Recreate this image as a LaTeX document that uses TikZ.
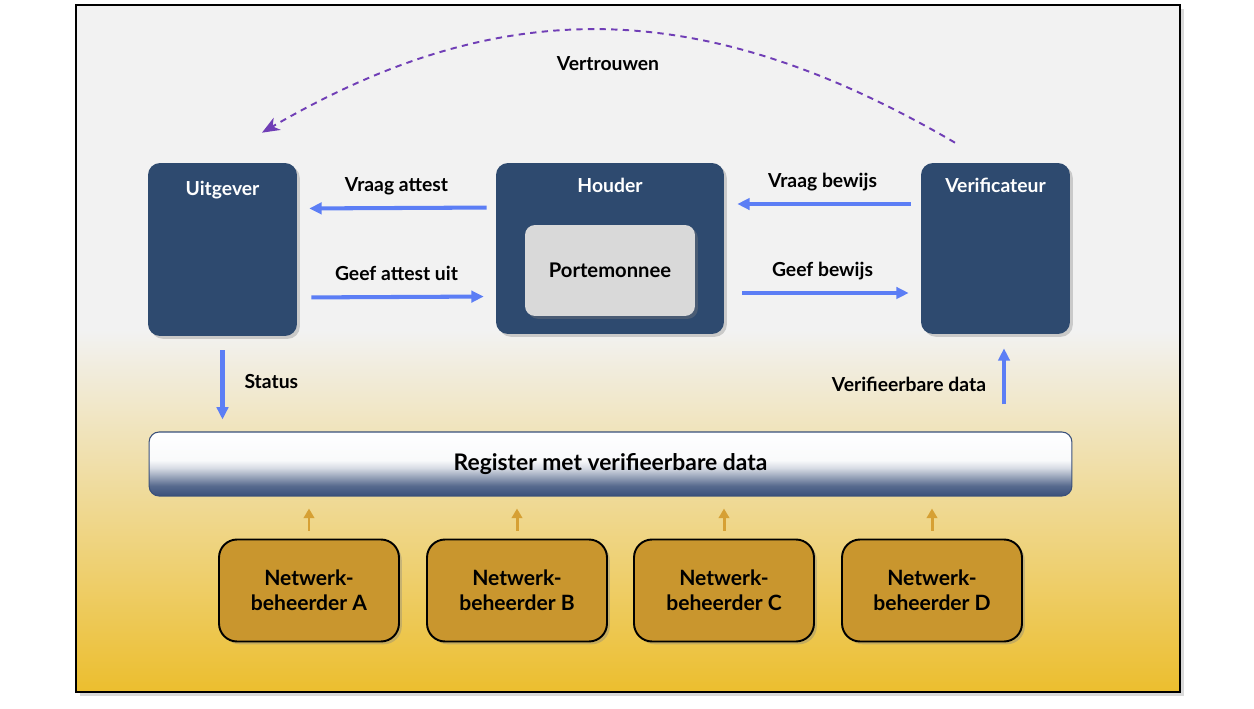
\documentclass[tikz,border=0pt]{standalone}
\usepackage{fontspec}
\setmainfont{Lato}
\usetikzlibrary{arrows.meta,shadows,positioning,calc}
\definecolor{navy}{RGB}{46,74,111}
\definecolor{flowblue}{RGB}{92,126,245}
\definecolor{trustpurple}{RGB}{112,62,182}
\definecolor{goldbox}{RGB}{201,150,46}
\definecolor{goldtip}{RGB}{214,160,52}
\definecolor{bggray}{RGB}{242,242,242}
\definecolor{bggold}{RGB}{236,190,46}
\definecolor{regblue}{RGB}{58,80,122}
\definecolor{walletgray}{RGB}{217,217,217}
\pgfdeclareverticalshading{registershade}{100bp}{color(0bp)=(regblue); color(25bp)=(regblue); color(33bp)=(regblue!85!white); color(47bp)=(white!80!regblue); color(53bp)=(white!97!regblue); color(75bp)=(white); color(100bp)=(white)}
\tikzset{
  softshadow/.style={drop shadow={shadow xshift=1.6pt,shadow yshift=-1.6pt,opacity=0.35}},
  party/.style={fill=navy,rounded corners=0.24cm,softshadow},
  partytitle/.style={text=white,inner sep=0pt,text height=8pt,text depth=2.5pt,font=\bfseries\fontsize{11}{13}\selectfont},
  wallet/.style={fill=walletgray,rounded corners=0.2cm,minimum width=3.4cm,minimum height=1.82cm,softshadow,font=\bfseries\fontsize{11.5}{13}\selectfont},
  register/.style={draw=regblue,line width=0.6pt,rounded corners=0.2cm,shading=registershade,minimum width=18.46cm,minimum height=1.28cm,font=\bfseries\fontsize{13}{15}\selectfont},
  beheerder/.style={draw=black,line width=1.1pt,fill=goldbox,rounded corners=0.36cm,minimum width=3.6cm,minimum height=2.04cm,align=center,softshadow,font=\bfseries\fontsize{12}{14}\selectfont},
  flow/.style={draw=flowblue,line width=2.3pt,-{Triangle[length=7pt,width=6.5pt]}},
  flowlabel/.style={inner sep=0pt,text height=8pt,text depth=2.5pt,font=\bfseries\fontsize{11}{13}\selectfont},
  feed/.style={draw=goldtip,line width=1.7pt,-{Triangle[length=5.5pt,width=6pt]}},
  trust/.style={draw=trustpurple,line width=1.1pt,dash pattern=on 3.6pt off 3pt,-{Stealth[length=10pt,width=8pt,inset=3pt]}}
}
\begin{document}
\begin{tikzpicture}[x=0.02cm,y=0.02cm]
\useasboundingbox (0,0) rectangle (1254,708);
\fill[bggray,drop shadow={shadow xshift=2pt,shadow yshift=-2pt,opacity=0.3}] (76,16) rectangle (1180,703);
\shade[top color=bggray,bottom color=bggold] (76,16) rectangle (1180,378);
\draw[line width=1.1pt] (76,16) rectangle (1180,703);

\node[party,minimum width=2.98cm,minimum height=3.46cm] (uitgever) at (222.5,458.5) {};
\node[party,minimum width=4.56cm,minimum height=3.42cm] (houder) at (610,459.5) {};
\node[party,minimum width=2.98cm,minimum height=3.42cm] (verif) at (995.5,459.5) {};
\node[partytitle] (uitgeverTitel) at ([yshift=-0.56cm]uitgever.north) {Uitgever};
\node[partytitle] (houderTitel) at ([yshift=-0.5cm]houder.north) {Houder};
\node[partytitle] (verifTitel) at ([yshift=-0.5cm]verif.north) {Verificateur};
\node[wallet] (portemonnee) at (610,437.5) {Portemonnee};

\node[register] (register) at (610.5,244) {Register met verifieerbare data};

\draw[flow,shorten <=0.18cm,shorten >=0.24cm] ([yshift=0.82cm]houder.west) -- ([yshift=0.82cm]uitgever.east)
  node[flowlabel,midway,above=6pt] {Vraag attest};
\draw[flow,shorten <=0.28cm,shorten >=0.24cm] ([yshift=-0.96cm]uitgever.east) -- ([yshift=-0.96cm]houder.west)
  node[flowlabel,midway,above=6pt] {Geef attest uit};
\draw[flow,shorten <=0.2cm,shorten >=0.26cm] ([yshift=0.89cm]verif.west) -- ([yshift=0.89cm]houder.east)
  node[flowlabel,midway,above=6pt] {Vraag bewijs};
\draw[flow,shorten <=0.36cm,shorten >=0.24cm] ([yshift=-0.89cm]houder.east) -- ([yshift=-0.89cm]verif.west)
  node[flowlabel,midway,above=6pt] {Geef bewijs};
\draw[flow,shorten <=0.28cm,shorten >=0.24cm] (uitgever.south) -- (uitgever.south |- register.north)
  node[flowlabel,midway,right=0.4cm] {Status};
\draw[flow,shorten <=0.54cm,shorten >=0.28cm] ([xshift=0.17cm]verif.south |- register.north) -- ([xshift=0.17cm]verif.south)
  node[flowlabel,pos=0.46,left=0.32cm] {Verifieerbare data};

\foreach \x/\l in {309/A,517/B,724/C,932/D}{
  \node[beheerder] (net\l) at (\x,117.5) {Netwerk-\\beheerder \l};
  \draw[feed,shorten <=0.16cm,shorten >=0.24cm] (net\l.north) -- (net\l.north |- register.south);
}

\coordinate (trustFrom) at ($(verif.north)+(-40.5,20)$);
\coordinate (trustTo) at ($(uitgever.north)+(39.5,30)$);
\draw[trust] (trustFrom) .. controls (700,714) and (500,714) .. (trustTo);
\node[flowlabel] (vertrouwen) at (608,642) {Vertrouwen};
\end{tikzpicture}
\end{document}
